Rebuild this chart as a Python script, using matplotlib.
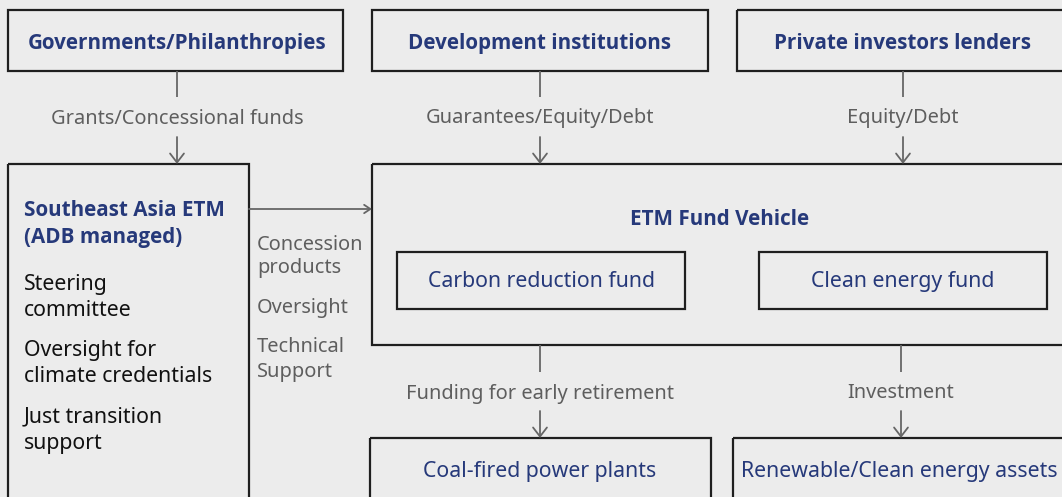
import matplotlib
matplotlib.use("Agg")
import matplotlib.pyplot as plt
from matplotlib.patches import Rectangle

# -- Text content ---------------------------------------------------
sources      = ["Governments/Philanthropies", "Development institutions",
                "Private investors lenders"]
source_flows = ["Grants/Concessional funds", "Guarantees/Equity/Debt",
                "Equity/Debt"]
etm_title    = ["Southeast Asia ETM", "(ADB managed)"]
etm_roles    = [["Steering", "committee"],
                ["Oversight for", "climate credentials"],
                ["Just transition", "support"]]
side_labels  = [["Concession", "products"], ["Oversight"],
                ["Technical", "Support"]]
vehicle      = "ETM Fund Vehicle"
funds        = ["Carbon reduction fund", "Clean energy fund"]
out_flows    = ["Funding for early retirement", "Investment"]
targets      = ["Coal-fired power plants", "Renewable/Clean energy assets"]

# -- Layout (pixels, y downwards) ----------------------------------
W, H = 1062, 497
BG    = "#ececec"
BLUE  = "#26397a"
GRAY  = "#5e5e5e"
EDGE  = "#1f1f1f"
LINE  = "#666666"
FONT  = "Noto Sans"
BOLD  = "Open Sans"
FS    = 15.3   # main text
FS_G  = 14.4   # gray flow labels
FS_B  = 14.9   # bold headings
DY    = 1.5    # text baseline nudge

src_boxes  = [(8, 10, 335, 61), (372, 10, 336, 61), (737, 10, 340, 61)]
src_cx     = [177, 540, 903]
etm_box    = (8, 164, 241, 345)
veh_box    = (372, 164, 700, 181)
fund_boxes = [(397, 252, 288, 57), (759, 252, 288, 57)]
fund_cx    = [541, 903]
tgt_boxes  = [(370, 438, 341, 80), (733, 438, 340, 80)]
tgt_cx     = [540, 901]
tgt_text_x = [540, 899]

fig = plt.figure(figsize=(W / 100, H / 100), dpi=100, facecolor=BG)
ax = fig.add_axes([0, 0, 1, 1])
ax.set_facecolor(BG)
ax.set_xlim(0, W)
ax.set_ylim(H, 0)
ax.axis("off")

def box(b, lw=1.6):
    x, y, w, h = b
    ax.add_patch(Rectangle((x, y), w, h, fill=False, edgecolor=EDGE, lw=lw))

def seg(x0, y0, x1, y1):
    ax.plot([x0, x1], [y0, y1], color=LINE, lw=1.3, solid_capstyle="butt")

def arrow(x0, y0, x1, y1, hl=0.65, hw=0.5):
    ax.annotate("", xy=(x1, y1), xytext=(x0, y0),
                arrowprops=dict(arrowstyle=f"->,head_length={hl},head_width={hw}",
                                color=LINE, lw=1.3, shrinkA=0, shrinkB=0))

def txt(x, y, s, **kw):
    ax.text(x, y + DY, s, va="center", **kw)

# -- Top row: funding sources ---------------------------------------
for b, cx, name, flow in zip(src_boxes, src_cx, sources, source_flows):
    box(b)
    txt(cx, 42, name, ha="center", fontsize=FS_B,
        fontweight="bold", color=BLUE, family=BOLD)
    seg(cx, 71, cx, 97)
    txt(cx, 117, flow, ha="center", fontsize=FS_G, color=GRAY, family=FONT)
    arrow(cx, 137, cx, 164)

# -- Southeast Asia ETM box -----------------------------------------
box(etm_box)
y = 209
for line in etm_title:
    txt(24, y, line, ha="left", fontsize=FS_B,
        fontweight="bold", color=BLUE, family=BOLD)
    y += 27
y = 283
for role in etm_roles:
    for line in role:
        txt(24, y, line, ha="left", fontsize=FS, color="#111111", family=FONT)
        y += 26.5
    y += 13

# link to fund vehicle
arrow(249, 209, 372, 209, hl=0.45, hw=0.3)
side_y = [[243, 267], [307], [346, 371]]
for lines, ys in zip(side_labels, side_y):
    for line, yy in zip(lines, ys):
        txt(257, yy, line, ha="left", fontsize=FS_G, color=GRAY, family=FONT)

# -- ETM fund vehicle -----------------------------------------------
box(veh_box)
txt(720, 218, vehicle, ha="center", fontsize=FS_B,
    fontweight="bold", color=BLUE, family=BOLD)
for b, cx, name in zip(fund_boxes, fund_cx, funds):
    box(b)
    txt(cx, 280, name, ha="center", fontsize=FS, color=BLUE, family=FONT)

# -- Outgoing flows -------------------------------------------------
for b, cx, tx, flow, name in zip(tgt_boxes, tgt_cx, tgt_text_x, out_flows, targets):
    seg(cx, 345, cx, 372)
    txt(cx, 392, flow, ha="center", fontsize=FS_G, color=GRAY, family=FONT)
    arrow(cx, 411, cx, 438)
    box(b)
    txt(tx, 470, name, ha="center", fontsize=FS, color=BLUE, family=FONT)

fig.savefig("out.png", dpi=100, facecolor=BG)
